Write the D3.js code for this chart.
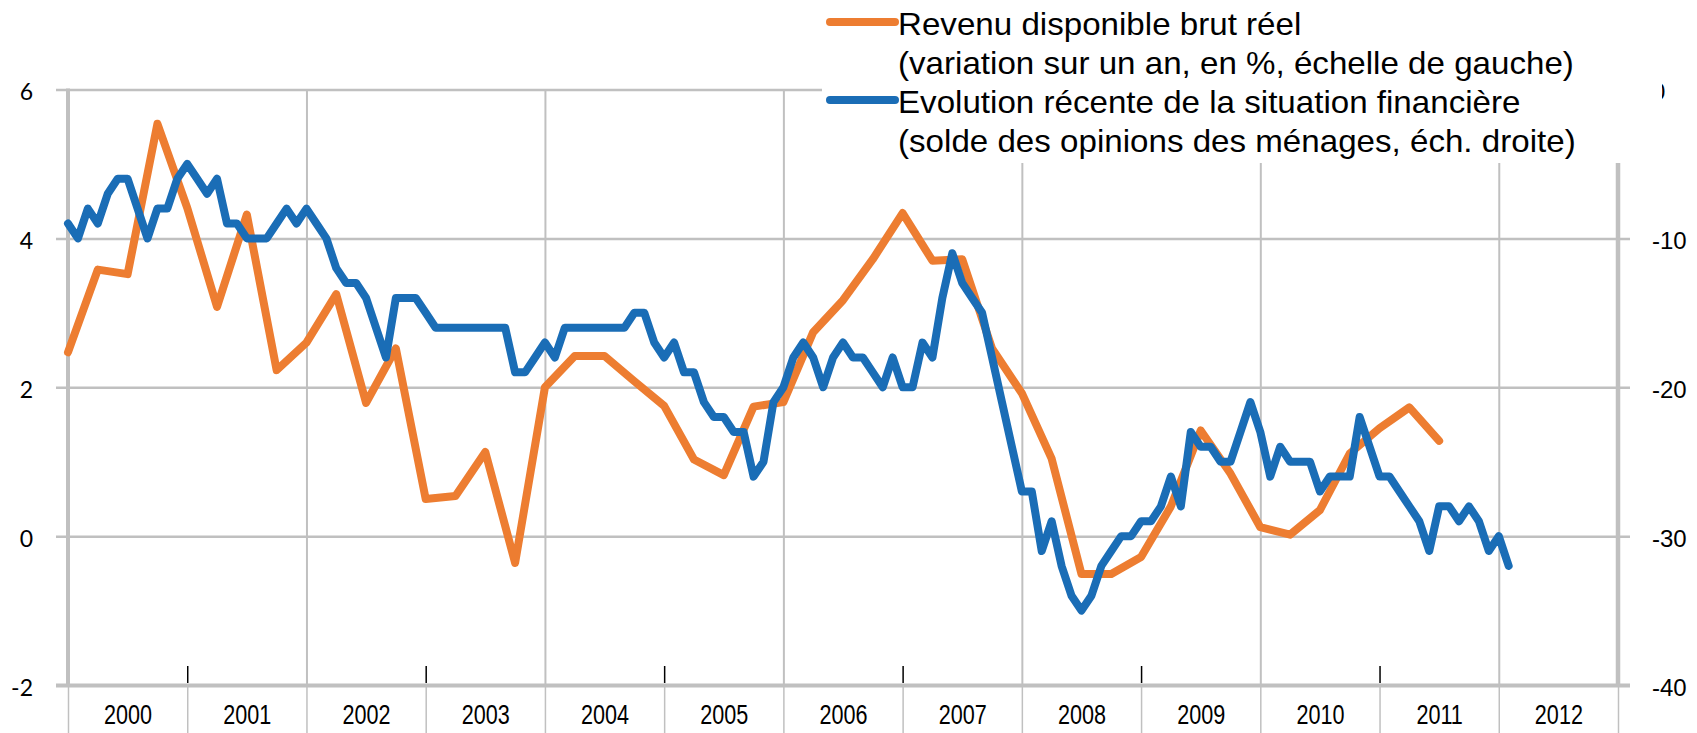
<!DOCTYPE html>
<html>
<head>
<meta charset="utf-8">
<script src="https://cdn.jsdelivr.net/npm/d3@7"></script>
<style>
html, body { margin: 0; padding: 0; background: #fff; }
svg { display: block; }
</style>
</head>
<body>
<svg width="1697" height="733"></svg>
<script>
// categories / tick labels
const years = [2000, 2001, 2002, 2003, 2004, 2005, 2006, 2007, 2008, 2009, 2010, 2011, 2012];
const leftTicks = [-2, 0, 2, 4, 6];
const rightTicks = [-40, -30, -20, -10, 0];

// Revenu disponible brut réel, variation sur un an en % (trimestriel, depuis 2000T1)
const revenu = [
  2.47, 3.58, 3.52, 5.54, 4.41, 3.08, 4.32, 2.23,
  2.60, 3.25, 1.79, 2.52, 0.50, 0.54, 1.13, -0.36,
  2.00, 2.42, 2.42, 2.08, 1.75, 1.03, 0.82, 1.74,
  1.80, 2.74, 3.17, 3.72, 4.34, 3.70, 3.72, 2.52,
  1.92, 1.04, -0.51, -0.51, -0.28, 0.40, 1.42, 0.84,
  0.12, 0.02, 0.35, 1.11, 1.45, 1.73, 1.28
];

// Evolution récente de la situation financière, solde d'opinions (mensuel, depuis janv. 2000)
const opinions = [
  -9, -10, -8, -9, -7, -6, -6, -8, -10, -8, -8, -6,
  -5, -6, -7, -6, -9, -9, -10, -10, -10, -9, -8, -9,
  -8, -9, -10, -12, -13, -13, -14, -16, -18, -14, -14, -14,
  -15, -16, -16, -16, -16, -16, -16, -16, -16, -19, -19, -18,
  -17, -18, -16, -16, -16, -16, -16, -16, -16, -15, -15, -17,
  -18, -17, -19, -19, -21, -22, -22, -23, -23, -26, -25, -21,
  -20, -18, -17, -18, -20, -18, -17, -18, -18, -19, -20, -18,
  -20, -20, -17, -18, -14, -11, -13, -14, -15, -18, -21, -24,
  -27, -27, -31, -29, -32, -34, -35, -34, -32, -31, -30, -30,
  -29, -29, -28, -26, -28, -23, -24, -24, -25, -25, -23, -21,
  -23, -26, -24, -25, -25, -25, -27, -26, -26, -26, -22, -24,
  -26, -26, -27, -28, -29, -31, -28, -28, -29, -28, -29, -31,
  -30, -32
];

const legendItems = [
  { color: "#ED7D31", lines: ["Revenu disponible brut réel", "(variation sur un an, en %, échelle de gauche)"] },
  { color: "#1A6DB6", lines: ["Evolution récente de la situation financière", "(solde des opinions des ménages, éch. droite)"] }
];

const svg = d3.select("svg");
const x0 = 68, x1 = 1618, yTop = 89.5, yBot = 685;
const grid = "#C0C0C0";
const sans = "'Liberation Sans', Arial, sans-serif";
const narrowX = 0.8; // squeeze Liberation Sans to look like a narrow face

const x = d3.scaleLinear().domain([2000, 2013]).range([x0, x1]);
const yL = d3.scaleLinear().domain([-2, 6]).range([yBot, yTop]);
const yR = d3.scaleLinear().domain([-40, 0]).range([yBot, yTop]);

// horizontal gridlines (with little outside ticks on both sides)
const hGrid = svg.append("g").attr("transform", `translate(${x0 - 12},0)`)
  .call(d3.axisRight(yL).tickValues(leftTicks).tickSize(x1 - x0 + 24).tickFormat(""));
hGrid.select(".domain").remove();
hGrid.selectAll("line").attr("stroke", grid)
  .attr("stroke-width", d => d === -2 ? 4 : 2.5);

// vertical gridlines every two years
const vGrid = svg.append("g").attr("transform", `translate(0,${yBot})`)
  .call(d3.axisTop(x).tickValues(years.filter(y => y % 2 === 0 && y > 2000)).tickSize(yBot - yTop).tickFormat(""));
vGrid.select(".domain").remove();
vGrid.selectAll("line").attr("stroke", grid).attr("stroke-width", 2);

// separators under the axis
const sep = svg.append("g").attr("transform", `translate(0,${yBot})`)
  .call(d3.axisBottom(x).tickValues(years.concat([2013])).tickSize(48).tickFormat(""));
sep.select(".domain").remove();
sep.selectAll("line").attr("stroke", grid).attr("stroke-width", 1.5);

// small black ticks at odd years
const odd = svg.append("g").attr("transform", `translate(0,${yBot - 2})`)
  .call(d3.axisTop(x).tickValues(years.filter(y => y % 2 === 1)).tickSize(17).tickFormat(""));
odd.select(".domain").remove();
odd.selectAll("line").attr("stroke", "#000").attr("stroke-width", 1.5);

// year labels
const yearAxis = svg.append("g").attr("transform", `translate(0,${yBot})`)
  .call(d3.axisBottom(x).tickValues(years.map(y => y + 0.5)).tickSize(0).tickPadding(20)
    .tickFormat(d => String(Math.floor(d))));
yearAxis.select(".domain").remove();
yearAxis.selectAll("text").attr("font-family", sans).attr("font-size", 27).attr("fill", "#000")
  .attr("transform", `scale(${narrowX},1)`);

// left axis line + labels
svg.append("line").attr("x1", x0).attr("x2", x0).attr("y1", yTop - 1).attr("y2", yBot + 2)
  .attr("stroke", grid).attr("stroke-width", 4);
const leftAxis = svg.append("g").attr("transform", `translate(${x0 - 12},0)`)
  .call(d3.axisLeft(yL).tickValues(leftTicks).tickSize(0).tickPadding(23).tickFormat(d => String(d)));
leftAxis.select(".domain").remove();
leftAxis.selectAll("text").attr("font-family", "Lato, 'Liberation Sans', sans-serif").attr("font-size", 23)
  .attr("fill", "#000").attr("dy", "0.45em");

// right axis line + labels
svg.append("line").attr("x1", x1).attr("x2", x1).attr("y1", yTop - 1).attr("y2", yBot + 2)
  .attr("stroke", grid).attr("stroke-width", 4.5);
const rightAxis = svg.append("g").attr("transform", `translate(${x1 + 12},0)`)
  .call(d3.axisRight(yR).tickValues(rightTicks).tickSize(0).tickPadding(22).tickFormat(d => String(d)));
rightAxis.select(".domain").remove();
rightAxis.selectAll("text").attr("font-family", sans).attr("font-size", 24)
  .attr("fill", "#000").attr("dy", "0.42em");

// series
const lineL = d3.line().x((d, i) => x(2000 + i / 4)).y(d => yL(d));
const lineR = d3.line().x((d, i) => x(2000 + i / 12)).y(d => yR(d));

svg.append("path").datum(revenu).attr("d", lineL)
  .attr("fill", "none").attr("stroke", legendItems[0].color).attr("stroke-width", 8)
  .attr("stroke-linejoin", "round").attr("stroke-linecap", "round");
svg.append("path").datum(opinions).attr("d", lineR)
  .attr("fill", "none").attr("stroke", legendItems[1].color).attr("stroke-width", 8)
  .attr("stroke-linejoin", "round").attr("stroke-linecap", "round");

// legend (white box over the top of the plot)
const leg = svg.append("g");
leg.append("rect").attr("x", 822).attr("y", 0).attr("width", 840).attr("height", 163).attr("fill", "#fff");
const lineY = [24, 63, 102, 141];
legendItems.forEach((item, i) => {
  leg.append("line").attr("x1", 830).attr("x2", 895)
    .attr("y1", lineY[i * 2] - 2).attr("y2", lineY[i * 2] - 2)
    .attr("stroke", item.color).attr("stroke-width", 8).attr("stroke-linecap", "round");
  item.lines.forEach((t, j) => {
    leg.append("text").attr("class", "legtxt")
      .attr("transform", `translate(898,${lineY[i * 2 + j]})`).attr("dy", "0.36em")
      .attr("font-family", sans).attr("font-size", 31).attr("fill", "#000").text(t);
  });
});
// squeeze legend text so the longest line spans like the original
const probe = leg.selectAll(".legtxt").nodes()[1];
const sx = 676 / probe.getComputedTextLength();
leg.selectAll(".legtxt").each(function (d, i) {
  d3.select(this).attr("transform", `translate(898,${lineY[i]}) scale(${sx},1)`);
});
</script>
</body>
</html>
